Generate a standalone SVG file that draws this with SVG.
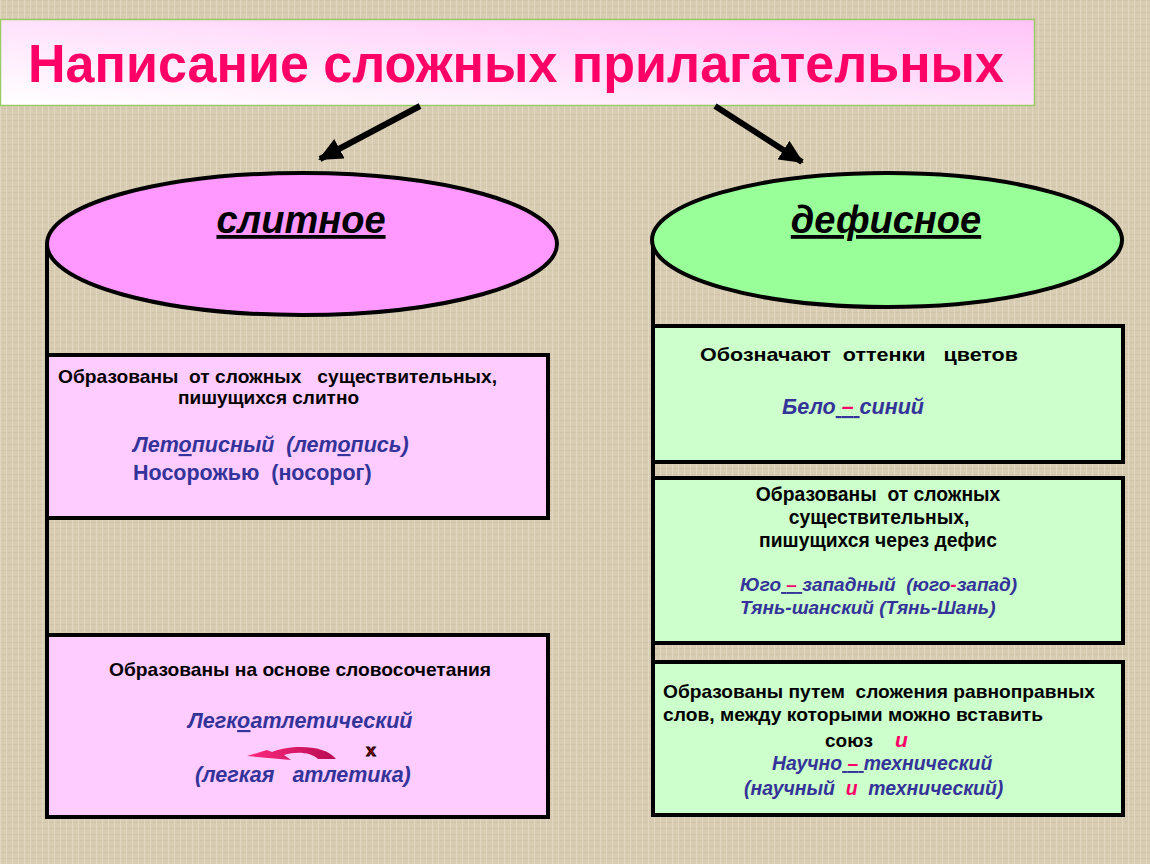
<svg xmlns="http://www.w3.org/2000/svg" width="1150" height="864" viewBox="0 0 1150 864">
<defs>
<pattern id="tex" width="6" height="6" patternUnits="userSpaceOnUse">
<rect width="6" height="6" fill="#d8ccb2"/>
<rect x="0" y="0" width="6" height="1" fill="#cfc3a8"/>
<rect x="0" y="0" width="1" height="6" fill="#e2d8c2"/>
</pattern>
<linearGradient id="tg" x1="0" y1="1" x2="1" y2="0">
<stop offset="0" stop-color="#ffffff"/>
<stop offset="1" stop-color="#ffc4f8"/>
</linearGradient>
<linearGradient id="sw" x1="0" y1="0" x2="1" y2="0">
<stop offset="0" stop-color="#ff2a80"/>
<stop offset="1" stop-color="#b80a50"/>
</linearGradient>
<marker id="ah" markerWidth="26" markerHeight="22" refX="22" refY="11" orient="auto" markerUnits="userSpaceOnUse">
<path d="M0,0 L24,11 L0,22 Z" fill="#000"/>
</marker>
<style>
.bx{stroke:#000;stroke-width:4}
.pk{fill:#ffccff}
.gr{fill:#ccffcc}
.t{font-family:"Liberation Sans",Arial,sans-serif;font-weight:bold;font-size:19px;fill:#000}
.b{font-family:"Liberation Sans",Arial,sans-serif;font-weight:bold;font-size:21.5px;fill:#333399}
.s{font-size:19.3px}
.i{font-style:italic}
.r{fill:#ff0066}
.hd{font-family:"Liberation Sans",Arial,sans-serif;font-weight:bold;font-style:italic;font-size:38px;fill:#000;text-decoration:underline}
.u{text-decoration:underline}
</style>
</defs>
<rect width="1150" height="864" fill="url(#tex)"/>

<g id="title">
<rect x="0.5" y="19.5" width="1034" height="86" fill="url(#tg)" stroke="#99cc66" stroke-width="1.5"/>
<text x="516" y="82" text-anchor="middle" font-family="'Liberation Sans Narrow','Liberation Sans',Arial,sans-serif" font-weight="bold" font-size="53" fill="#ff0066" textLength="976" lengthAdjust="spacingAndGlyphs">Написание сложных прилагательных</text>
</g>

<g id="connectors" stroke="#000" fill="none">
<line x1="420" y1="106" x2="320" y2="159" stroke-width="6" marker-end="url(#ah)"/>
<line x1="715" y1="106" x2="802" y2="162" stroke-width="6" marker-end="url(#ah)"/>
<line x1="47" y1="244" x2="47" y2="817" stroke-width="4"/>
<line x1="653" y1="240" x2="653" y2="815" stroke-width="4"/>
</g>

<g id="slitnoe">
<ellipse cx="302" cy="244" rx="255" ry="71" fill="#ff99ff" stroke="#000" stroke-width="4"/>
<text class="hd" x="301" y="233" text-anchor="middle">слитное</text>
</g>

<g id="defisnoe">
<ellipse cx="887" cy="240" rx="235" ry="67" fill="#99ff99" stroke="#000" stroke-width="4"/>
<text class="hd" x="886" y="233" text-anchor="middle">дефисное</text>
</g>

<g id="left1">
<rect class="bx pk" x="47" y="355" width="501" height="163"/>
<text class="t" x="58" y="383" textLength="439" lengthAdjust="spacingAndGlyphs" xml:space="preserve">Образованы  от сложных   существительных,</text>
<text class="t" x="178" y="404">пишущихся слитно</text>
<text class="b i" x="133" y="452" xml:space="preserve">Лет<tspan class="u">о</tspan>писный  (лет<tspan class="u">о</tspan>пись)</text>
<text class="b" x="133" y="480" xml:space="preserve">Носорожью  (носорог)</text>
</g>

<g id="left2">
<rect class="bx pk" x="47" y="635" width="501" height="182"/>
<text class="t" x="109" y="676" textLength="382" lengthAdjust="spacingAndGlyphs">Образованы на  основе словосочетания</text>
<text class="b i" x="188" y="728">Легк<tspan class="u">о</tspan>атлетический</text>
<path d="M247,756 L267,750 L272,752 C292,744 326,745 336,759 L318,759 C311,752 296,751 284,755 L291,760 Z" fill="url(#sw)"/>
<text x="371" y="756" text-anchor="middle" font-family="'Liberation Sans',Arial,sans-serif" font-weight="bold" font-size="17" fill="#cc0000" stroke="#000" stroke-width="1">x</text>
<text class="b i" x="195" y="782" xml:space="preserve">(легкая   атлетика)</text>
</g>

<g id="right1">
<rect class="bx gr" x="653" y="326" width="470" height="136"/>
<text class="t" x="700" y="361" textLength="318" lengthAdjust="spacingAndGlyphs" xml:space="preserve">Обозначают  оттенки   цветов</text>
<text class="b i" x="782" y="414" xml:space="preserve">Бело<tspan class="u"> <tspan class="r">–</tspan> </tspan>синий</text>
</g>

<g id="right2">
<rect class="bx gr" x="653" y="478" width="470" height="165"/>
<text class="t s" x="878" y="501" text-anchor="middle" xml:space="preserve">Образованы  от сложных</text>
<text class="t s" x="879" y="524" text-anchor="middle">существительных,</text>
<text class="t s" x="878" y="547" text-anchor="middle">пишущихся через дефис</text>
<text class="b i" x="740" y="591" style="font-size:19px" xml:space="preserve">Юго<tspan class="u"> <tspan class="r">–</tspan> </tspan>западный  (юго<tspan class="r">-</tspan>запад)</text>
<text class="b i" x="740" y="614" style="font-size:19px">Тянь-шанский (Тянь-Шань)</text>
</g>

<g id="right3">
<rect class="bx gr" x="653" y="662" width="470" height="153"/>
<text class="t" x="663" y="698" textLength="432" lengthAdjust="spacingAndGlyphs" xml:space="preserve">Образованы путем  сложения равноправных</text>
<text class="t" x="663" y="721" textLength="380" lengthAdjust="spacingAndGlyphs">слов, между которыми можно вставить</text>
<text class="t" x="825" y="747">союз<tspan class="r i" x="895" style="font-size:21px">и</tspan></text>
<text class="b i" x="772" y="770" style="font-size:19.4px" xml:space="preserve">Научно<tspan class="u"> <tspan class="r">–</tspan> </tspan>технический</text>
<text class="b i" x="744" y="795" style="font-size:19.4px" xml:space="preserve">(научный  <tspan class="r">и</tspan>  технический)</text>
</g>
</svg>
